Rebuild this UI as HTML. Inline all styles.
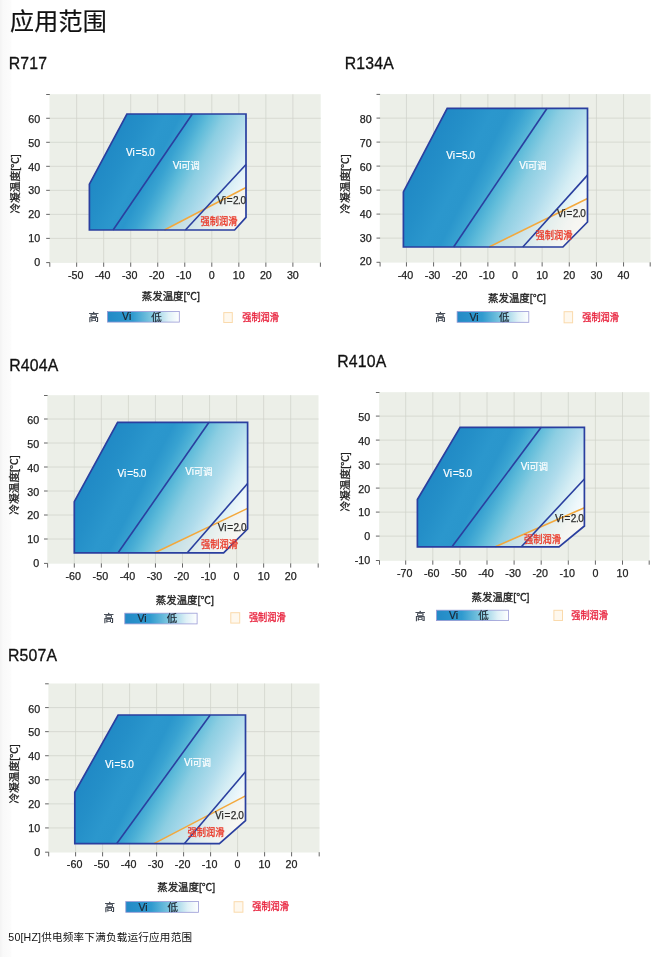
<!DOCTYPE html>
<html lang="zh-CN"><head><meta charset="utf-8"><title>应用范围</title>
<style>
html,body{margin:0;padding:0;background:#fff;}
body{width:671px;height:957px;overflow:hidden;position:relative;font-family:"Liberation Sans","Noto Sans CJK SC",sans-serif;}
svg{position:absolute;left:0;top:0;display:block;}
svg text{font-family:"Liberation Sans","Noto Sans CJK SC",sans-serif;}
.ch{filter:blur(0.3px);}
h1,h2,p{position:absolute;margin:0;padding:0;font-weight:normal;white-space:nowrap;color:#111;}
.h1{font-size:24px;line-height:32px;-webkit-text-stroke:0.2px #111;letter-spacing:0.25px;}
.h2{font-size:15.8px;line-height:20px;-webkit-text-stroke:0.3px #111;letter-spacing:0.2px;}
.tk{font-size:10.3px;fill:#222;stroke:#222;stroke-width:0.25px;}
.ax{font-size:10.5px;fill:#222;stroke:#222;stroke-width:0.3px;}
.wt{font-size:10px;fill:#fff;stroke:#fff;stroke-width:0.2px;}
.wa{font-size:10px;}
.dk{font-size:10px;fill:#2b2b2b;stroke:#2b2b2b;stroke-width:0.25px;}
.rd{font-size:10px;fill:#ea3a2a;stroke:#ea3a2a;stroke-width:0.3px;}
.rl{font-size:10px;fill:#e81f3a;stroke:#e81f3a;stroke-width:0.3px;}
.lg{font-size:10.5px;fill:#1c2430;stroke:#1c2430;stroke-width:0.2px;}
.ft{font-size:10.6px;line-height:14px;letter-spacing:0.19px;}
</style></head><body>
<svg width="671" height="957" viewBox="0 0 671 957" role="img" aria-label="应用范围图表">
<defs>
<linearGradient id="edge" x1="0" y1="0" x2="1" y2="0"><stop offset="0" stop-color="#f3f3f3"/><stop offset="0.25" stop-color="#f9f9f9"/><stop offset="0.9" stop-color="#fcfcfc"/><stop offset="1" stop-color="#ffffff"/></linearGradient>
<linearGradient id="lgbar" x1="0" y1="0" x2="1" y2="0"><stop offset="0" stop-color="#2389c6"/><stop offset="0.35" stop-color="#2f9acf"/><stop offset="0.6" stop-color="#7cc6df"/><stop offset="0.85" stop-color="#dff1f7"/><stop offset="1" stop-color="#ffffff"/></linearGradient>
<linearGradient id="g0" gradientUnits="userSpaceOnUse" x1="107.46" y1="148.66" x2="245.21" y2="218.84">
<stop offset="0" stop-color="#2089c5"/>
<stop offset="0.12" stop-color="#248fc8"/>
<stop offset="0.24" stop-color="#2b97cd"/>
<stop offset="0.32" stop-color="#2a96cc"/>
<stop offset="0.39" stop-color="#38a2d1"/>
<stop offset="0.44" stop-color="#4aaed5"/>
<stop offset="0.49" stop-color="#60bcda"/>
<stop offset="0.58" stop-color="#8ccee2"/>
<stop offset="0.7" stop-color="#b0dcec"/>
<stop offset="0.8" stop-color="#d4edf4"/>
<stop offset="0.9" stop-color="#eff8fb"/>
<stop offset="1" stop-color="#ffffff"/>
</linearGradient>
<clipPath id="c0"><polygon points="89.4,230 89.4,184.1 126.9,114 246,114 246,217.3 234.6,230"/></clipPath>
<linearGradient id="g1" gradientUnits="userSpaceOnUse" x1="424.85" y1="149.81" x2="583.18" y2="230.49">
<stop offset="0" stop-color="#2089c5"/>
<stop offset="0.12" stop-color="#248fc8"/>
<stop offset="0.24" stop-color="#2b97cd"/>
<stop offset="0.32" stop-color="#2a96cc"/>
<stop offset="0.39" stop-color="#38a2d1"/>
<stop offset="0.44" stop-color="#4aaed5"/>
<stop offset="0.49" stop-color="#60bcda"/>
<stop offset="0.58" stop-color="#8ccee2"/>
<stop offset="0.7" stop-color="#b0dcec"/>
<stop offset="0.8" stop-color="#d4edf4"/>
<stop offset="0.9" stop-color="#eff8fb"/>
<stop offset="1" stop-color="#ffffff"/>
</linearGradient>
<clipPath id="c1"><polygon points="403.4,247 403.4,191.9 447.2,108.3 587.5,108.3 587.5,222 562.9,247"/></clipPath>
<linearGradient id="g2" gradientUnits="userSpaceOnUse" x1="94.76" y1="461.44" x2="243.43" y2="537.19">
<stop offset="0" stop-color="#2089c5"/>
<stop offset="0.12" stop-color="#248fc8"/>
<stop offset="0.24" stop-color="#2b97cd"/>
<stop offset="0.32" stop-color="#2a96cc"/>
<stop offset="0.39" stop-color="#38a2d1"/>
<stop offset="0.44" stop-color="#4aaed5"/>
<stop offset="0.49" stop-color="#60bcda"/>
<stop offset="0.58" stop-color="#8ccee2"/>
<stop offset="0.7" stop-color="#b0dcec"/>
<stop offset="0.8" stop-color="#d4edf4"/>
<stop offset="0.9" stop-color="#eff8fb"/>
<stop offset="1" stop-color="#ffffff"/>
</linearGradient>
<clipPath id="c2"><polygon points="74.3,552.8 74.3,501.6 117.6,422.3 247.6,422.3 247.6,529 223.6,552.8"/></clipPath>
<linearGradient id="g3" gradientUnits="userSpaceOnUse" x1="436.78" y1="461.47" x2="580.07" y2="534.49">
<stop offset="0" stop-color="#2089c5"/>
<stop offset="0.12" stop-color="#248fc8"/>
<stop offset="0.24" stop-color="#2b97cd"/>
<stop offset="0.32" stop-color="#2a96cc"/>
<stop offset="0.39" stop-color="#38a2d1"/>
<stop offset="0.44" stop-color="#4aaed5"/>
<stop offset="0.49" stop-color="#60bcda"/>
<stop offset="0.58" stop-color="#8ccee2"/>
<stop offset="0.7" stop-color="#b0dcec"/>
<stop offset="0.8" stop-color="#d4edf4"/>
<stop offset="0.9" stop-color="#eff8fb"/>
<stop offset="1" stop-color="#ffffff"/>
</linearGradient>
<clipPath id="c3"><polygon points="417.4,546.8 417.4,499.5 460.1,427.3 584.4,427.3 584.4,526 559,546.8"/></clipPath>
<linearGradient id="g4" gradientUnits="userSpaceOnUse" x1="94.57" y1="753.51" x2="241.53" y2="828.39">
<stop offset="0" stop-color="#2089c5"/>
<stop offset="0.12" stop-color="#248fc8"/>
<stop offset="0.24" stop-color="#2b97cd"/>
<stop offset="0.32" stop-color="#2a96cc"/>
<stop offset="0.39" stop-color="#38a2d1"/>
<stop offset="0.44" stop-color="#4aaed5"/>
<stop offset="0.49" stop-color="#60bcda"/>
<stop offset="0.58" stop-color="#8ccee2"/>
<stop offset="0.7" stop-color="#b0dcec"/>
<stop offset="0.8" stop-color="#d4edf4"/>
<stop offset="0.9" stop-color="#eff8fb"/>
<stop offset="1" stop-color="#ffffff"/>
</linearGradient>
<clipPath id="c4"><polygon points="74.8,843.7 74.8,792.3 118.1,715 245.5,715 245.5,820.6 219.4,843.7"/></clipPath>
</defs>
<rect x="0" y="0" width="12" height="957" fill="url(#edge)"/>
<g class="ch">
<rect x="49.5" y="94.2" width="271.2" height="168.7" fill="#ecefe8"/>
<path d="M76.65 94.2V262.9M103.68 94.2V262.9M130.71 94.2V262.9M157.74 94.2V262.9M184.77 94.2V262.9M211.8 94.2V262.9M238.83 94.2V262.9M265.86 94.2V262.9M292.89 94.2V262.9M49.5 238.38H320.7M49.5 214.36H320.7M49.5 190.34H320.7M49.5 166.32H320.7M49.5 142.3H320.7M49.5 118.28H320.7" stroke="#d0d3cb" stroke-width="0.75" fill="none"/>
<path d="M49.8 262.6v4.2M76.65 262.6v4.2M103.68 262.6v4.2M130.71 262.6v4.2M157.74 262.6v4.2M184.77 262.6v4.2M211.8 262.6v4.2M238.83 262.6v4.2M265.86 262.6v4.2M292.89 262.6v4.2M320.4 262.6v4.2M49.8 262.6h-3.6M49.8 238.38h-3.6M49.8 214.36h-3.6M49.8 190.34h-3.6M49.8 166.32h-3.6M49.8 142.3h-3.6M49.8 118.28h-3.6M49.8 94.5h-3.6" stroke="#555" stroke-width="0.9" fill="none"/>
<text class="tk" textLength="15.48" lengthAdjust="spacingAndGlyphs" x="67.91" y="278.75">-50</text>
<text class="tk" textLength="15.48" lengthAdjust="spacingAndGlyphs" x="94.94" y="278.75">-40</text>
<text class="tk" textLength="15.48" lengthAdjust="spacingAndGlyphs" x="121.97" y="278.75">-30</text>
<text class="tk" textLength="15.48" lengthAdjust="spacingAndGlyphs" x="149" y="278.75">-20</text>
<text class="tk" textLength="15.48" lengthAdjust="spacingAndGlyphs" x="176.03" y="278.75">-10</text>
<text class="tk" textLength="5.96" lengthAdjust="spacingAndGlyphs" x="208.82" y="278.75">0</text>
<text class="tk" textLength="11.91" lengthAdjust="spacingAndGlyphs" x="232.87" y="278.75">10</text>
<text class="tk" textLength="11.91" lengthAdjust="spacingAndGlyphs" x="259.9" y="278.75">20</text>
<text class="tk" textLength="11.91" lengthAdjust="spacingAndGlyphs" x="286.93" y="278.75">30</text>
<text class="tk" textLength="5.96" lengthAdjust="spacingAndGlyphs" x="34.24" y="265.55">0</text>
<text class="tk" textLength="11.91" lengthAdjust="spacingAndGlyphs" x="28.29" y="241.8">10</text>
<text class="tk" textLength="11.91" lengthAdjust="spacingAndGlyphs" x="28.29" y="218.05">20</text>
<text class="tk" textLength="11.91" lengthAdjust="spacingAndGlyphs" x="28.29" y="194.3">30</text>
<text class="tk" textLength="11.91" lengthAdjust="spacingAndGlyphs" x="28.29" y="170.55">40</text>
<text class="tk" textLength="11.91" lengthAdjust="spacingAndGlyphs" x="28.29" y="146.8">50</text>
<text class="tk" textLength="11.91" lengthAdjust="spacingAndGlyphs" x="28.29" y="123.05">60</text>
<polygon points="89.4,230 89.4,184.1 126.9,114 246,114 246,217.3 234.6,230" fill="url(#g0)"/>
<polygon clip-path="url(#c0)" points="164.4,230 246,187.5 251,235 164.4,235" fill="#f5efe2" fill-opacity="0.42"/>
<line x1="164.4" y1="230" x2="246" y2="187.5" stroke="#f3a83c" stroke-width="1.5"/>
<line x1="113.1" y1="230" x2="192.3" y2="114" stroke="#2a3f9f" stroke-width="1.6"/>
<line x1="185.4" y1="230" x2="246" y2="164.5" stroke="#2a3f9f" stroke-width="1.6"/>
<polygon points="89.4,230 89.4,184.1 126.9,114 246,114 246,217.3 234.6,230" fill="none" stroke="#2a3f9f" stroke-width="1.7" stroke-linejoin="miter"/>
<text class="wt" text-anchor="middle" x="140.3" y="155.8">Vi<tspan dx="0.9">=</tspan><tspan dx="0.3" letter-spacing="-0.4">5.0</tspan></text>
<text class="wt wa" text-anchor="middle" x="186.2" y="169.1">Vi<tspan font-size="9.2">可调</tspan></text>
<text class="dk" text-anchor="middle" x="231.4" y="204.2">Vi<tspan dx="0.9">=</tspan><tspan dx="0.3" letter-spacing="-0.4">2.0</tspan></text>
<text class="rd" textLength="37" lengthAdjust="spacingAndGlyphs" x="200.4" y="224.7">强制润滑</text>
<text class="ax" textLength="59.4" lengthAdjust="spacingAndGlyphs" transform="translate(15.5 183.9) rotate(-90)" x="-29.7" y="3.9">冷凝温度[℃]</text>
<text class="ax" textLength="58" lengthAdjust="spacingAndGlyphs" x="141.8" y="300.4">蒸发温度[℃]</text>
<text class="lg" text-anchor="middle" x="93.7" y="320.9">高</text>
<rect x="107.4" y="311.5" width="71.9" height="10.6" fill="url(#lgbar)" stroke="#9a9bd6" stroke-width="0.8"/>
<text class="lg" text-anchor="middle" x="126.7" y="320.4">Vi</text>
<text class="lg" text-anchor="middle" x="156.6" y="320.5">低</text>
<rect x="223.8" y="312.6" width="8.5" height="9.9" fill="#fef8ee" stroke="#fadaac" stroke-width="1"/>
<text class="rl" textLength="36.8" lengthAdjust="spacingAndGlyphs" x="242.2" y="320.8">强制润滑</text>
</g>
<g class="ch">
<rect x="379.8" y="94.1" width="270.7" height="168.5" fill="#ecefe8"/>
<path d="M406.44 94.1V262.6M433.58 94.1V262.6M460.72 94.1V262.6M487.86 94.1V262.6M515 94.1V262.6M542.14 94.1V262.6M569.28 94.1V262.6M596.42 94.1V262.6M623.56 94.1V262.6M379.8 238.1H650.5M379.8 214.1H650.5M379.8 190.1H650.5M379.8 166.1H650.5M379.8 142.1H650.5M379.8 118.1H650.5" stroke="#d0d3cb" stroke-width="0.75" fill="none"/>
<path d="M380.1 262.3v4.2M406.44 262.3v4.2M433.58 262.3v4.2M460.72 262.3v4.2M487.86 262.3v4.2M515 262.3v4.2M542.14 262.3v4.2M569.28 262.3v4.2M596.42 262.3v4.2M623.56 262.3v4.2M650.2 262.3v4.2M380.1 262.3h-3.6M380.1 238.1h-3.6M380.1 214.1h-3.6M380.1 190.1h-3.6M380.1 166.1h-3.6M380.1 142.1h-3.6M380.1 118.1h-3.6M380.1 94.4h-3.6" stroke="#555" stroke-width="0.9" fill="none"/>
<text class="tk" textLength="15.48" lengthAdjust="spacingAndGlyphs" x="397.7" y="278.75">-40</text>
<text class="tk" textLength="15.48" lengthAdjust="spacingAndGlyphs" x="424.84" y="278.75">-30</text>
<text class="tk" textLength="15.48" lengthAdjust="spacingAndGlyphs" x="451.98" y="278.75">-20</text>
<text class="tk" textLength="15.48" lengthAdjust="spacingAndGlyphs" x="479.12" y="278.75">-10</text>
<text class="tk" textLength="5.96" lengthAdjust="spacingAndGlyphs" x="512.02" y="278.75">0</text>
<text class="tk" textLength="11.91" lengthAdjust="spacingAndGlyphs" x="536.18" y="278.75">10</text>
<text class="tk" textLength="11.91" lengthAdjust="spacingAndGlyphs" x="563.32" y="278.75">20</text>
<text class="tk" textLength="11.91" lengthAdjust="spacingAndGlyphs" x="590.46" y="278.75">30</text>
<text class="tk" textLength="11.91" lengthAdjust="spacingAndGlyphs" x="617.6" y="278.75">40</text>
<text class="tk" textLength="11.91" lengthAdjust="spacingAndGlyphs" x="359.69" y="265.15">20</text>
<text class="tk" textLength="11.91" lengthAdjust="spacingAndGlyphs" x="359.69" y="241.5">30</text>
<text class="tk" textLength="11.91" lengthAdjust="spacingAndGlyphs" x="359.69" y="217.85">40</text>
<text class="tk" textLength="11.91" lengthAdjust="spacingAndGlyphs" x="359.69" y="194.2">50</text>
<text class="tk" textLength="11.91" lengthAdjust="spacingAndGlyphs" x="359.69" y="170.55">60</text>
<text class="tk" textLength="11.91" lengthAdjust="spacingAndGlyphs" x="359.69" y="146.9">70</text>
<text class="tk" textLength="11.91" lengthAdjust="spacingAndGlyphs" x="359.69" y="123.25">80</text>
<polygon points="403.4,247 403.4,191.9 447.2,108.3 587.5,108.3 587.5,222 562.9,247" fill="url(#g1)"/>
<polygon clip-path="url(#c1)" points="489.1,247 587.5,198.5 592.5,252 489.1,252" fill="#f5efe2" fill-opacity="0.42"/>
<line x1="489.1" y1="247" x2="587.5" y2="198.5" stroke="#f3a83c" stroke-width="1.5"/>
<line x1="453.6" y1="247" x2="547.1" y2="108.3" stroke="#2a3f9f" stroke-width="1.6"/>
<line x1="522.8" y1="247" x2="587.5" y2="175.1" stroke="#2a3f9f" stroke-width="1.6"/>
<polygon points="403.4,247 403.4,191.9 447.2,108.3 587.5,108.3 587.5,222 562.9,247" fill="none" stroke="#2a3f9f" stroke-width="1.7" stroke-linejoin="miter"/>
<text class="wt" text-anchor="middle" x="460.5" y="159.1">Vi<tspan dx="0.9">=</tspan><tspan dx="0.3" letter-spacing="-0.4">5.0</tspan></text>
<text class="wt wa" text-anchor="middle" x="532.8" y="169.1">Vi<tspan font-size="9.2">可调</tspan></text>
<text class="dk" text-anchor="middle" x="571.2" y="217.3">Vi<tspan dx="0.9">=</tspan><tspan dx="0.3" letter-spacing="-0.4">2.0</tspan></text>
<text class="rd" textLength="37" lengthAdjust="spacingAndGlyphs" x="535.5" y="239">强制润滑</text>
<text class="ax" textLength="59.4" lengthAdjust="spacingAndGlyphs" transform="translate(345.4 184) rotate(-90)" x="-29.7" y="3.9">冷凝温度[℃]</text>
<text class="ax" textLength="58" lengthAdjust="spacingAndGlyphs" x="488" y="302">蒸发温度[℃]</text>
<text class="lg" text-anchor="middle" x="440.6" y="320.8">高</text>
<rect x="457.1" y="311.6" width="71.7" height="10.7" fill="url(#lgbar)" stroke="#9a9bd6" stroke-width="0.8"/>
<text class="lg" text-anchor="middle" x="474.1" y="320.55">Vi</text>
<text class="lg" text-anchor="middle" x="504.2" y="320.65">低</text>
<rect x="564.1" y="311.7" width="8.5" height="11.1" fill="#fef8ee" stroke="#fadaac" stroke-width="1"/>
<text class="rl" textLength="36.8" lengthAdjust="spacingAndGlyphs" x="582.2" y="320.6">强制润滑</text>
</g>
<g class="ch">
<rect x="47.3" y="395.2" width="271.2" height="168.5" fill="#ecefe8"/>
<path d="M74.3 395.2V563.7M101.35 395.2V563.7M128.4 395.2V563.7M155.45 395.2V563.7M182.5 395.2V563.7M209.55 395.2V563.7M236.6 395.2V563.7M263.65 395.2V563.7M290.7 395.2V563.7M47.3 539H318.5M47.3 515H318.5M47.3 491H318.5M47.3 467H318.5M47.3 443H318.5M47.3 419H318.5" stroke="#d0d3cb" stroke-width="0.75" fill="none"/>
<path d="M47.6 563.4v4.2M74.3 563.4v4.2M101.35 563.4v4.2M128.4 563.4v4.2M155.45 563.4v4.2M182.5 563.4v4.2M209.55 563.4v4.2M236.6 563.4v4.2M263.65 563.4v4.2M290.7 563.4v4.2M318.2 563.4v4.2M47.6 563.4h-3.6M47.6 539h-3.6M47.6 515h-3.6M47.6 491h-3.6M47.6 467h-3.6M47.6 443h-3.6M47.6 419h-3.6M47.6 395.5h-3.6" stroke="#555" stroke-width="0.9" fill="none"/>
<text class="tk" textLength="15.48" lengthAdjust="spacingAndGlyphs" x="65.56" y="579.75">-60</text>
<text class="tk" textLength="15.48" lengthAdjust="spacingAndGlyphs" x="92.61" y="579.75">-50</text>
<text class="tk" textLength="15.48" lengthAdjust="spacingAndGlyphs" x="119.66" y="579.75">-40</text>
<text class="tk" textLength="15.48" lengthAdjust="spacingAndGlyphs" x="146.71" y="579.75">-30</text>
<text class="tk" textLength="15.48" lengthAdjust="spacingAndGlyphs" x="173.76" y="579.75">-20</text>
<text class="tk" textLength="15.48" lengthAdjust="spacingAndGlyphs" x="200.81" y="579.75">-10</text>
<text class="tk" textLength="5.96" lengthAdjust="spacingAndGlyphs" x="233.62" y="579.75">0</text>
<text class="tk" textLength="11.91" lengthAdjust="spacingAndGlyphs" x="257.69" y="579.75">10</text>
<text class="tk" textLength="11.91" lengthAdjust="spacingAndGlyphs" x="284.74" y="579.75">20</text>
<text class="tk" textLength="5.96" lengthAdjust="spacingAndGlyphs" x="33.34" y="566.95">0</text>
<text class="tk" textLength="11.91" lengthAdjust="spacingAndGlyphs" x="27.39" y="543.17">10</text>
<text class="tk" textLength="11.91" lengthAdjust="spacingAndGlyphs" x="27.39" y="519.38">20</text>
<text class="tk" textLength="11.91" lengthAdjust="spacingAndGlyphs" x="27.39" y="495.6">30</text>
<text class="tk" textLength="11.91" lengthAdjust="spacingAndGlyphs" x="27.39" y="471.82">40</text>
<text class="tk" textLength="11.91" lengthAdjust="spacingAndGlyphs" x="27.39" y="448.03">50</text>
<text class="tk" textLength="11.91" lengthAdjust="spacingAndGlyphs" x="27.39" y="424.25">60</text>
<polygon points="74.3,552.8 74.3,501.6 117.6,422.3 247.6,422.3 247.6,529 223.6,552.8" fill="url(#g2)"/>
<polygon clip-path="url(#c2)" points="154.8,552.8 247.6,508.4 252.6,557.8 154.8,557.8" fill="#f5efe2" fill-opacity="0.42"/>
<line x1="154.8" y1="552.8" x2="247.6" y2="508.4" stroke="#f3a83c" stroke-width="1.5"/>
<line x1="118.1" y1="552.8" x2="209" y2="422.3" stroke="#2a3f9f" stroke-width="1.6"/>
<line x1="187.3" y1="552.8" x2="247.6" y2="483.5" stroke="#2a3f9f" stroke-width="1.6"/>
<polygon points="74.3,552.8 74.3,501.6 117.6,422.3 247.6,422.3 247.6,529 223.6,552.8" fill="none" stroke="#2a3f9f" stroke-width="1.7" stroke-linejoin="miter"/>
<text class="wt" text-anchor="middle" x="131.8" y="476.6">Vi<tspan dx="0.9">=</tspan><tspan dx="0.3" letter-spacing="-0.4">5.0</tspan></text>
<text class="wt wa" text-anchor="middle" x="198.9" y="475.2">Vi<tspan font-size="9.2">可调</tspan></text>
<text class="dk" text-anchor="middle" x="231.9" y="530.6">Vi<tspan dx="0.9">=</tspan><tspan dx="0.3" letter-spacing="-0.4">2.0</tspan></text>
<text class="rd" textLength="37" lengthAdjust="spacingAndGlyphs" x="200.9" y="548.2">强制润滑</text>
<text class="ax" textLength="59.4" lengthAdjust="spacingAndGlyphs" transform="translate(13.6 485) rotate(-90)" x="-29.7" y="3.9">冷凝温度[℃]</text>
<text class="ax" textLength="58" lengthAdjust="spacingAndGlyphs" x="155.8" y="603.7">蒸发温度[℃]</text>
<text class="lg" text-anchor="middle" x="108.8" y="622.4">高</text>
<rect x="124.8" y="613.2" width="72.3" height="10.7" fill="url(#lgbar)" stroke="#9a9bd6" stroke-width="0.8"/>
<text class="lg" text-anchor="middle" x="142" y="622.15">Vi</text>
<text class="lg" text-anchor="middle" x="172" y="622.25">低</text>
<rect x="230.8" y="612.7" width="8.9" height="10.4" fill="#fef8ee" stroke="#fadaac" stroke-width="1"/>
<text class="rl" textLength="36.8" lengthAdjust="spacingAndGlyphs" x="248.9" y="621.3">强制润滑</text>
</g>
<g class="ch">
<rect x="379.2" y="392.2" width="270.3" height="168.6" fill="#ecefe8"/>
<path d="M405.7 392.2V560.8M432.8 392.2V560.8M459.9 392.2V560.8M487 392.2V560.8M514.1 392.2V560.8M541.2 392.2V560.8M568.3 392.2V560.8M595.4 392.2V560.8M622.5 392.2V560.8M379.2 536.1H649.5M379.2 512.1H649.5M379.2 488.1H649.5M379.2 464.1H649.5M379.2 440.1H649.5M379.2 416.1H649.5" stroke="#d0d3cb" stroke-width="0.75" fill="none"/>
<path d="M379.5 560.5v4.2M405.7 560.5v4.2M432.8 560.5v4.2M459.9 560.5v4.2M487 560.5v4.2M514.1 560.5v4.2M541.2 560.5v4.2M568.3 560.5v4.2M595.4 560.5v4.2M622.5 560.5v4.2M649.2 560.5v4.2M379.5 560.5h-3.6M379.5 536.1h-3.6M379.5 512.1h-3.6M379.5 488.1h-3.6M379.5 464.1h-3.6M379.5 440.1h-3.6M379.5 416.1h-3.6M379.5 392.5h-3.6" stroke="#555" stroke-width="0.9" fill="none"/>
<text class="tk" textLength="15.48" lengthAdjust="spacingAndGlyphs" x="396.96" y="576.85">-70</text>
<text class="tk" textLength="15.48" lengthAdjust="spacingAndGlyphs" x="424.06" y="576.85">-60</text>
<text class="tk" textLength="15.48" lengthAdjust="spacingAndGlyphs" x="451.16" y="576.85">-50</text>
<text class="tk" textLength="15.48" lengthAdjust="spacingAndGlyphs" x="478.26" y="576.85">-40</text>
<text class="tk" textLength="15.48" lengthAdjust="spacingAndGlyphs" x="505.36" y="576.85">-30</text>
<text class="tk" textLength="15.48" lengthAdjust="spacingAndGlyphs" x="532.46" y="576.85">-20</text>
<text class="tk" textLength="15.48" lengthAdjust="spacingAndGlyphs" x="559.56" y="576.85">-10</text>
<text class="tk" textLength="5.96" lengthAdjust="spacingAndGlyphs" x="592.42" y="576.85">0</text>
<text class="tk" textLength="11.91" lengthAdjust="spacingAndGlyphs" x="616.54" y="576.85">10</text>
<text class="tk" textLength="15.48" lengthAdjust="spacingAndGlyphs" x="354.72" y="564.05">-10</text>
<text class="tk" textLength="5.96" lengthAdjust="spacingAndGlyphs" x="364.24" y="540.22">0</text>
<text class="tk" textLength="11.91" lengthAdjust="spacingAndGlyphs" x="358.29" y="516.38">10</text>
<text class="tk" textLength="11.91" lengthAdjust="spacingAndGlyphs" x="358.29" y="492.55">20</text>
<text class="tk" textLength="11.91" lengthAdjust="spacingAndGlyphs" x="358.29" y="468.72">30</text>
<text class="tk" textLength="11.91" lengthAdjust="spacingAndGlyphs" x="358.29" y="444.88">40</text>
<text class="tk" textLength="11.91" lengthAdjust="spacingAndGlyphs" x="358.29" y="421.05">50</text>
<polygon points="417.4,546.8 417.4,499.5 460.1,427.3 584.4,427.3 584.4,526 559,546.8" fill="url(#g3)"/>
<polygon clip-path="url(#c3)" points="495.3,546.8 584.4,507.8 589.4,551.8 495.3,551.8" fill="#f5efe2" fill-opacity="0.42"/>
<line x1="495.3" y1="546.8" x2="584.4" y2="507.8" stroke="#f3a83c" stroke-width="1.5"/>
<line x1="452" y1="546.8" x2="541.2" y2="427.3" stroke="#2a3f9f" stroke-width="1.6"/>
<line x1="521.3" y1="546.8" x2="584.4" y2="479" stroke="#2a3f9f" stroke-width="1.6"/>
<polygon points="417.4,546.8 417.4,499.5 460.1,427.3 584.4,427.3 584.4,526 559,546.8" fill="none" stroke="#2a3f9f" stroke-width="1.7" stroke-linejoin="miter"/>
<text class="wt" text-anchor="middle" x="457.5" y="476.6">Vi<tspan dx="0.9">=</tspan><tspan dx="0.3" letter-spacing="-0.4">5.0</tspan></text>
<text class="wt wa" text-anchor="middle" x="534.3" y="470.1">Vi<tspan font-size="9.2">可调</tspan></text>
<text class="dk" text-anchor="middle" x="569.2" y="521.7">Vi<tspan dx="0.9">=</tspan><tspan dx="0.3" letter-spacing="-0.4">2.0</tspan></text>
<text class="rd" textLength="37" lengthAdjust="spacingAndGlyphs" x="524.1" y="543">强制润滑</text>
<text class="ax" textLength="59.4" lengthAdjust="spacingAndGlyphs" transform="translate(345.1 481.9) rotate(-90)" x="-29.7" y="3.9">冷凝温度[℃]</text>
<text class="ax" textLength="58" lengthAdjust="spacingAndGlyphs" x="471.5" y="600.5">蒸发温度[℃]</text>
<text class="lg" text-anchor="middle" x="420.3" y="619.7">高</text>
<rect x="436.5" y="610.2" width="72" height="10.4" fill="url(#lgbar)" stroke="#9a9bd6" stroke-width="0.8"/>
<text class="lg" text-anchor="middle" x="453.6" y="619">Vi</text>
<text class="lg" text-anchor="middle" x="483.6" y="619.1">低</text>
<rect x="553.9" y="610.3" width="8.6" height="10.2" fill="#fef8ee" stroke="#fadaac" stroke-width="1"/>
<text class="rl" textLength="36.8" lengthAdjust="spacingAndGlyphs" x="571.2" y="618.8">强制润滑</text>
</g>
<g class="ch">
<rect x="48.4" y="683.5" width="271.1" height="169" fill="#ecefe8"/>
<path d="M75.6 683.5V852.5M102.6 683.5V852.5M129.6 683.5V852.5M156.6 683.5V852.5M183.6 683.5V852.5M210.6 683.5V852.5M237.6 683.5V852.5M264.6 683.5V852.5M291.6 683.5V852.5M48.4 827.93H319.5M48.4 803.86H319.5M48.4 779.79H319.5M48.4 755.72H319.5M48.4 731.65H319.5M48.4 707.58H319.5" stroke="#d0d3cb" stroke-width="0.75" fill="none"/>
<path d="M48.7 852.2v4.2M75.6 852.2v4.2M102.6 852.2v4.2M129.6 852.2v4.2M156.6 852.2v4.2M183.6 852.2v4.2M210.6 852.2v4.2M237.6 852.2v4.2M264.6 852.2v4.2M291.6 852.2v4.2M319.2 852.2v4.2M48.7 852.2h-3.6M48.7 827.93h-3.6M48.7 803.86h-3.6M48.7 779.79h-3.6M48.7 755.72h-3.6M48.7 731.65h-3.6M48.7 707.58h-3.6M48.7 683.8h-3.6" stroke="#555" stroke-width="0.9" fill="none"/>
<text class="tk" textLength="15.48" lengthAdjust="spacingAndGlyphs" x="66.86" y="867.65">-60</text>
<text class="tk" textLength="15.48" lengthAdjust="spacingAndGlyphs" x="93.86" y="867.65">-50</text>
<text class="tk" textLength="15.48" lengthAdjust="spacingAndGlyphs" x="120.86" y="867.65">-40</text>
<text class="tk" textLength="15.48" lengthAdjust="spacingAndGlyphs" x="147.86" y="867.65">-30</text>
<text class="tk" textLength="15.48" lengthAdjust="spacingAndGlyphs" x="174.86" y="867.65">-20</text>
<text class="tk" textLength="15.48" lengthAdjust="spacingAndGlyphs" x="201.86" y="867.65">-10</text>
<text class="tk" textLength="5.96" lengthAdjust="spacingAndGlyphs" x="234.62" y="867.65">0</text>
<text class="tk" textLength="11.91" lengthAdjust="spacingAndGlyphs" x="258.64" y="867.65">10</text>
<text class="tk" textLength="11.91" lengthAdjust="spacingAndGlyphs" x="285.64" y="867.65">20</text>
<text class="tk" textLength="5.96" lengthAdjust="spacingAndGlyphs" x="34.24" y="855.55">0</text>
<text class="tk" textLength="11.91" lengthAdjust="spacingAndGlyphs" x="28.29" y="831.73">10</text>
<text class="tk" textLength="11.91" lengthAdjust="spacingAndGlyphs" x="28.29" y="807.92">20</text>
<text class="tk" textLength="11.91" lengthAdjust="spacingAndGlyphs" x="28.29" y="784.1">30</text>
<text class="tk" textLength="11.91" lengthAdjust="spacingAndGlyphs" x="28.29" y="760.28">40</text>
<text class="tk" textLength="11.91" lengthAdjust="spacingAndGlyphs" x="28.29" y="736.47">50</text>
<text class="tk" textLength="11.91" lengthAdjust="spacingAndGlyphs" x="28.29" y="712.65">60</text>
<polygon points="74.8,843.7 74.8,792.3 118.1,715 245.5,715 245.5,820.6 219.4,843.7" fill="url(#g4)"/>
<polygon clip-path="url(#c4)" points="153.9,843.7 245.5,795.9 250.5,848.7 153.9,848.7" fill="#f5efe2" fill-opacity="0.42"/>
<line x1="153.9" y1="843.7" x2="245.5" y2="795.9" stroke="#f3a83c" stroke-width="1.5"/>
<line x1="116.6" y1="843.7" x2="210.2" y2="715" stroke="#2a3f9f" stroke-width="1.6"/>
<line x1="184.3" y1="843.7" x2="245.5" y2="771.8" stroke="#2a3f9f" stroke-width="1.6"/>
<polygon points="74.8,843.7 74.8,792.3 118.1,715 245.5,715 245.5,820.6 219.4,843.7" fill="none" stroke="#2a3f9f" stroke-width="1.7" stroke-linejoin="miter"/>
<text class="wt" text-anchor="middle" x="119.2" y="768.1">Vi<tspan dx="0.9">=</tspan><tspan dx="0.3" letter-spacing="-0.4">5.0</tspan></text>
<text class="wt wa" text-anchor="middle" x="197.5" y="766.1">Vi<tspan font-size="9.2">可调</tspan></text>
<text class="dk" text-anchor="middle" x="229.2" y="818.5">Vi<tspan dx="0.9">=</tspan><tspan dx="0.3" letter-spacing="-0.4">2.0</tspan></text>
<text class="rd" textLength="37" lengthAdjust="spacingAndGlyphs" x="187.5" y="836">强制润滑</text>
<text class="ax" textLength="59.4" lengthAdjust="spacingAndGlyphs" transform="translate(14.2 773.9) rotate(-90)" x="-29.7" y="3.9">冷凝温度[℃]</text>
<text class="ax" textLength="58" lengthAdjust="spacingAndGlyphs" x="157.2" y="891">蒸发温度[℃]</text>
<text class="lg" text-anchor="middle" x="109.7" y="910.8">高</text>
<rect x="125.8" y="901.6" width="72.7" height="10.7" fill="url(#lgbar)" stroke="#9a9bd6" stroke-width="0.8"/>
<text class="lg" text-anchor="middle" x="143" y="910.55">Vi</text>
<text class="lg" text-anchor="middle" x="172.8" y="910.65">低</text>
<rect x="234.1" y="901.7" width="8.8" height="10.5" fill="#fef8ee" stroke="#fadaac" stroke-width="1"/>
<text class="rl" textLength="36.8" lengthAdjust="spacingAndGlyphs" x="252.2" y="909.8">强制润滑</text>
</g>
</svg>
<h1 class="h1" style="left:9.9px;top:5.5px">应用范围</h1>
<h2 class="h2" style="left:8.7px;top:53.8px">R717</h2>
<h2 class="h2" style="left:344.7px;top:54px">R134A</h2>
<h2 class="h2" style="left:9.2px;top:355.5px">R404A</h2>
<h2 class="h2" style="left:337.2px;top:352px">R410A</h2>
<h2 class="h2" style="left:8px;top:645.8px">R507A</h2>
<p class="ft" style="left:8.3px;top:930px">50[HZ]供电频率下满负载运行应用范围</p>
</body></html>
